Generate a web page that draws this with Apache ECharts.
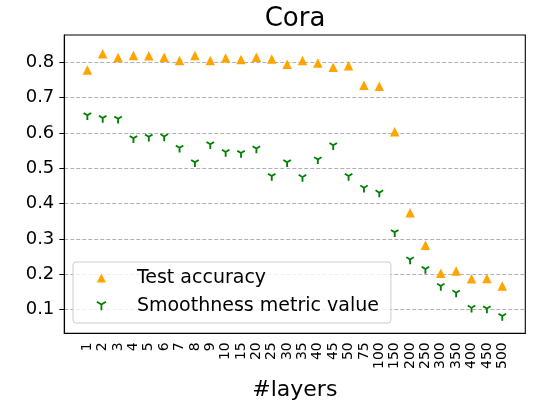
<!DOCTYPE html>
<html>
<head>
<meta charset="utf-8">
<script src="https://cdn.jsdelivr.net/npm/echarts@6/dist/echarts.min.js"></script>
<style>
html,body{margin:0;padding:0;background:#fff}
#main{width:556px;height:416px}
</style>
</head>
<body>
<div id="main"></div>
<script>
// number of layers on the x axis
var layers = ['1','2','3','4','5','6','7','8','9','10','15','20','25','30','35','40','45','50','75','100','150','200','250','300','350','400','450','500'];
var testAccuracy = [0.778,0.824,0.813,0.819,0.818,0.814,0.805,0.819,0.805,0.812,0.808,0.814,0.809,0.794,0.805,0.798,0.786,0.790,0.735,0.732,0.603,0.374,0.282,0.203,0.209,0.187,0.188,0.167];
var smoothness = [0.650,0.642,0.640,0.585,0.589,0.590,0.558,0.517,0.568,0.546,0.543,0.556,0.478,0.517,0.475,0.525,0.565,0.478,0.445,0.431,0.319,0.242,0.215,0.167,0.148,0.105,0.103,0.082];
var yTicks = [0.1,0.2,0.3,0.4,0.5,0.6,0.7,0.8];

// pad one empty slot on each side so the margins look like matplotlib's
var cats = [' '].concat(layers).concat(['  ']);
var accData = [null].concat(testAccuracy).concat([null]);
var smData = [null].concat(smoothness).concat([null]);
var isReal = function (idx, val) { return val.trim() !== ''; };

var font = 'DejaVu Sans';
var triDown = 'path://M0,0L0,10M0,0L-8,-5M0,0L8,-5';

var chartDom = document.getElementById('main');
var myChart = echarts.init(chartDom, null, { renderer: 'canvas' });
var option = {
  animation: false,
  backgroundColor: '#fff',
  title: {
    text: 'Cora',
    left: 295,
    top: 6,
    padding: 0,
    textAlign: 'center',
    textStyle: { fontFamily: font, fontSize: 26, fontWeight: 'normal', color: '#000' }
  },
  grid: {
    left: 64.3,
    right: 30.7,
    top: 35,
    bottom: 82.7,
    show: true,
    borderColor: '#000',
    borderWidth: 1.1,
    backgroundColor: 'transparent'
  },
  legend: {
    orient: 'vertical',
    left: 73,
    top: 262,
    padding: [6, 12, 7, 23],
    itemWidth: 9,
    itemHeight: 9,
    itemGap: 8,
    backgroundColor: 'rgba(255,255,255,0.8)',
    borderColor: '#cccccc',
    borderWidth: 1,
    borderRadius: 3,
    textStyle: { fontFamily: font, fontSize: 19, color: '#000', lineHeight: 20, padding: [0, 0, 0, 26] },
    data: [
      { name: 'Test accuracy', icon: 'triangle' },
      { name: 'Smoothness metric value', icon: triDown,
        itemStyle: { color: 'green', borderColor: 'green', borderWidth: 1.8 } }
    ]
  },
  xAxis: {
    type: 'category',
    data: cats,
    boundaryGap: true,
    name: '#layers',
    nameLocation: 'middle',
    nameGap: 46,
    nameTextStyle: { fontFamily: font, fontSize: 22, color: '#000' },
    axisLine: { lineStyle: { color: '#000', width: 1.1 } },
    axisTick: { alignWithLabel: true, interval: isReal, length: 5, lineStyle: { color: '#000' } },
    axisLabel: { interval: isReal, rotate: 90, margin: 9, fontFamily: font, fontSize: 14, color: '#000' },
    splitLine: { show: false }
  },
  yAxis: {
    type: 'value',
    min: 0.033,
    max: 0.877,
    splitNumber: 8,
    axisLine: { show: true, lineStyle: { color: '#000', width: 1.1 } },
    axisTick: { show: true, length: 5, customValues: yTicks, lineStyle: { color: '#000' } },
    axisLabel: { customValues: yTicks, margin: 10, fontFamily: font, fontSize: 18, color: '#000' },
    splitLine: { show: true, lineStyle: { color: '#b0b0b0', type: [4, 2], width: 1 } }
  },
  series: [
    {
      name: 'Test accuracy',
      type: 'scatter',
      symbol: 'triangle',
      symbolSize: 9.5,
      itemStyle: { color: '#FFA500', opacity: 1 },
      data: accData
    },
    {
      name: 'Smoothness metric value',
      type: 'scatter',
      symbol: triDown,
      symbolSize: [7.5, 7],
      symbolOffset: [0, 1.2],
      itemStyle: { color: 'green', borderColor: 'green', borderWidth: 1.8, opacity: 1 },
      data: smData
    }
  ]
};
option && myChart.setOption(option);
</script>
</body>
</html>
